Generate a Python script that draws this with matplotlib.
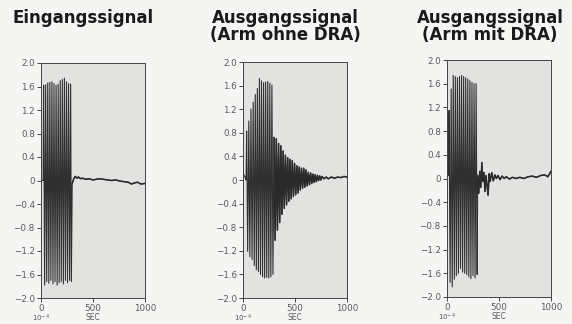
import matplotlib
matplotlib.use("Agg")
import matplotlib.pyplot as plt
import numpy as np

# y ticks / labels shared by all three panels
yticks = [-2.0, -1.6, -1.2, -0.8, -0.4, 0.0, 0.4, 0.8, 1.2, 1.6, 2.0]
ylabels = ["\u22122.0", "\u22121.6", "\u22121.2", "\u22120.8", "\u22120.4", "0",
           "0.4", "0.8", "1.2", "1.6", "2.0"]
xticks = [0, 500, 1000]
xlabels = ["0", "500", "1000"]

titles = ["Eingangssignal",
          "Ausgangssignal\n(Arm ohne DRA)",
          "Ausgangssignal\n(Arm mit DRA)"]

# Eingangssignal: extrema (time in 1e-4 s)
t1 = [0, 10, 20,
      25, 35, 45, 55, 65, 75, 85, 95, 105, 115, 125, 135, 145, 155, 165, 175,
      185, 195, 205, 215, 225, 235, 245, 255, 265, 275, 285, 292,
      300, 315, 330, 345, 360, 380, 400, 430, 460, 500, 530, 560, 600, 640,
      680, 720, 760, 800, 840, 870, 900, 930, 960, 1000]
v1 = [0.0, 0.0, 0.0,
      1.62, -1.78, 1.63, -1.72, 1.66, -1.75, 1.67, -1.70, 1.68, -1.76, 1.65,
      -1.72, 1.62, -1.78, 1.64, -1.74, 1.70, -1.72, 1.72, -1.76, 1.74, -1.70,
      1.68, -1.74, 1.65, -1.70, 1.64, -1.72,
      -0.05, 0.03, 0.07, 0.04, 0.06, 0.03, 0.04, 0.02, 0.03, 0.01, 0.02, 0.03,
      0.02, 0.01, 0.0, 0.01, -0.01, -0.02, -0.03, -0.06, -0.04, -0.03, -0.06,
      -0.05]

# Ausgangssignal ohne DRA
t2 = [0, 10, 20, 30,
      35, 45, 56, 66, 77, 87, 98, 108, 118, 128, 138, 148, 158, 168, 178, 188,
      198, 208, 218, 228, 238, 248, 258, 268, 278, 288,
      298, 309, 320, 331, 342, 353, 364, 375, 386, 397, 408, 419, 430, 441,
      452, 463, 474, 485, 496, 507, 518, 529, 540, 551, 562, 573, 584, 595,
      606, 617, 628, 639, 650, 661, 672, 683, 694, 705, 716, 727, 738, 749,
      760, 780, 800, 820, 850, 880, 910, 940, 970, 1000]
v2 = [0.12, 0.08, 0.05, 0.0,
      0.83, -1.21, 1.00, -1.30, 1.20, -1.35, 1.32, -1.45, 1.45, -1.52, 1.55,
      -1.55, 1.72, -1.60, 1.68, -1.64, 1.65, -1.66, 1.66, -1.65, 1.67, -1.66,
      1.64, -1.64, 1.61, -1.60,
      0.72, -1.02, 0.70, -0.85, 0.62, -0.72, 0.58, -0.58, 0.49, -0.48, 0.42,
      -0.42, 0.38, -0.36, 0.35, -0.32, 0.33, -0.28, 0.28, -0.25, 0.24, -0.22,
      0.22, -0.17, 0.20, -0.14, 0.20, -0.12, 0.17, -0.10, 0.13, -0.08, 0.12,
      -0.06, 0.10, -0.04, 0.09, -0.03, 0.08, -0.01, 0.07, 0.0,
      0.06, 0.02, 0.05, 0.02, 0.05, 0.03, 0.05, 0.04, 0.06, 0.05]

# Ausgangssignal mit DRA
t3 = [0, 8, 15,
      20, 30, 40, 50, 60, 70, 80, 90, 100, 110, 120, 130, 140, 150, 160, 170,
      180, 190, 200, 210, 220, 230, 240, 250, 260, 270, 280, 290,
      295, 305, 315, 325, 335, 345, 355, 365, 375, 385, 395, 405, 415, 430,
      445, 460, 475, 490, 510, 530, 550, 570, 600, 630, 660, 700, 740, 780,
      820, 860, 900, 940, 970, 1000]
v3 = [0.15, 0.10, 0.05,
      1.15, -1.75, 1.51, -1.83, 1.74, -1.70, 1.72, -1.64, 1.70, -1.60, 1.72,
      -1.52, 1.74, -1.58, 1.72, -1.60, 1.70, -1.62, 1.68, -1.66, 1.65, -1.69,
      1.62, -1.64, 1.60, -1.68, 1.60, -1.62,
      0.05, -0.25, 0.12, -0.15, 0.27, -0.05, 0.10, -0.22, 0.05, -0.12, -0.28,
      0.08, -0.05, 0.10, -0.04, 0.06, 0.0, 0.05, -0.02, 0.04, 0.0, 0.03, -0.01,
      0.02, 0.0, 0.02, 0.0, 0.03, 0.04, 0.02, 0.05, 0.06, 0.03, 0.12]

series = [(t1, v1), (t2, v2), (t3, v3)]

fig = plt.figure(figsize=(5.72, 3.24), dpi=100)
fig.patch.set_facecolor('#f5f5f3')

# axes boxes in pixels (left, top, right, bottom)
boxes = [(41, 63, 145, 298), (243, 62, 347, 298), (447, 60, 551, 297)]
title_x = [83, 285, 490]
W, H = 572., 324.

for i, (t, v) in enumerate(series):
    l, top, r, b = boxes[i]
    ax = fig.add_axes([l / W, 1 - b / H, (r - l) / W, (b - top) / H])
    ax.set_facecolor('#e2e2e0')
    t = np.array(t)
    v = np.array(v)
    ax.plot(t, v, color='#303030', lw=0.8)
    tail = t >= 295
    ax.plot(t[tail], v[tail], color='#2a2a2a', lw=1.1)
    ax.set_xlim(0, 1000)
    ax.set_ylim(-2.0, 2.0)
    ax.set_yticks(yticks)
    ax.set_yticklabels(ylabels)
    ax.set_xticks(xticks)
    ax.set_xticklabels(xlabels)
    ax.tick_params(direction='out', length=3, width=0.7, labelsize=6.3,
                   labelcolor='#5a5a5a', color='#444444', pad=1.5)
    ax.tick_params(axis='x', pad=1)
    for s in ax.spines.values():
        s.set_color('#444444')
        s.set_linewidth(0.7)
    ax.text(0.0, -0.063, "10$^{-4}$", transform=ax.transAxes, fontsize=5,
            color='#5a5a5a', ha='center', va='top')
    ax.text(0.5, -0.063, "SEC", transform=ax.transAxes, fontsize=5.5,
            color='#5a5a5a', ha='center', va='top')
    fig.text(title_x[i] / W, 1 - 9 / H, titles[i], ha='center', va='top',
             fontsize=12, fontweight='bold', color='#1a1a1a',
             linespacing=0.92, family='DejaVu Sans')

fig.savefig('out.png', dpi=100, facecolor=fig.get_facecolor())
